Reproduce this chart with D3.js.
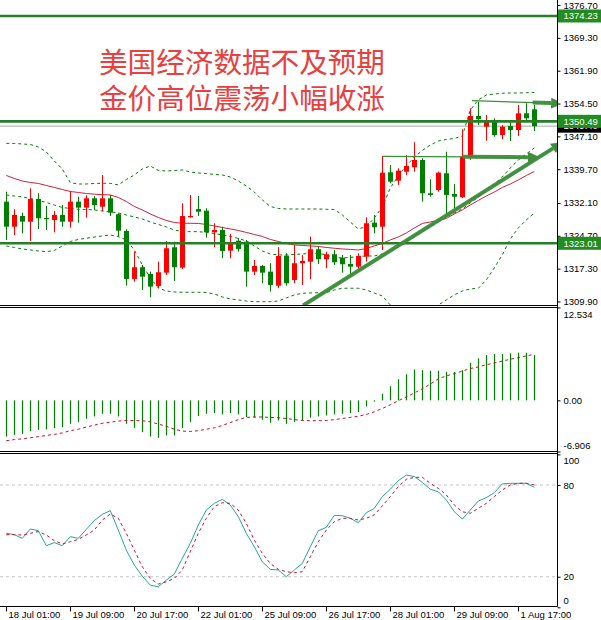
<!DOCTYPE html>
<html>
<head>
  <meta charset="utf-8">
  <script src="https://d3js.org/d3.v7.min.js"></script>
  <style>
    body { margin: 0; background: #fff; }
    text { font-family: "Liberation Sans", Arial, sans-serif; }
  </style>
</head>
<body>
  <svg width="601" height="620"></svg>

  <script>
    // H4 bars, 18 Jul 01:00 .. 1 Aug 17:00
    const open = [1332.39, 1326.75, 1329.16, 1327.88, 1332.99, 1328.71, 1328.26, 1329.39, 1327.88, 1332.39,
      1331.04, 1333.15, 1331.26, 1333.15, 1329.55, 1325.79, 1314.97, 1317.61, 1316.10, 1313.39,
      1316.39, 1322.11, 1317.52, 1328.87, 1330.74, 1330.36, 1325.49, 1326.01, 1321.35, 1323.60,
      1323.37, 1316.62, 1317.90, 1316.62, 1313.46, 1320.22, 1314.74, 1318.51, 1318.87, 1321.66,
      1319.41, 1320.54, 1319.77, 1318.35, 1317.74, 1320.00, 1327.66, 1326.75, 1339.01, 1337.12,
      1339.14, 1340.14, 1341.78, 1334.28, 1335.02, 1338.79, 1334.12, 1333.37, 1342.39, 1351.69,
      1349.28, 1350.41, 1347.41, 1349.44, 1348.54, 1352.30, 1353.20];
    const high = [1334.64, 1330.67, 1329.91, 1335.40, 1334.28, 1331.42, 1330.29, 1331.64, 1334.80, 1333.51,
      1333.83, 1333.67, 1338.40, 1333.90, 1329.77, 1326.17, 1321.12, 1318.13, 1316.62, 1318.87,
      1323.53, 1323.37, 1332.02, 1333.90, 1333.67, 1330.90, 1327.52, 1326.75, 1325.11, 1324.14,
      1323.76, 1319.25, 1318.13, 1318.51, 1322.11, 1320.76, 1322.63, 1320.38, 1324.50, 1322.25,
      1321.12, 1321.50, 1320.38, 1320.38, 1320.76, 1328.87, 1329.39, 1342.68, 1340.65, 1339.91,
      1342.91, 1345.77, 1342.17, 1337.43, 1339.14, 1343.65, 1336.37, 1348.70, 1353.43, 1354.91,
      1351.92, 1351.17, 1349.66, 1350.41, 1354.17, 1354.55, 1354.17];
    const low = [1323.76, 1324.88, 1325.26, 1323.53, 1326.23, 1326.01, 1325.49, 1326.75, 1326.53, 1327.66,
      1328.78, 1330.52, 1330.29, 1329.16, 1324.37, 1313.46, 1314.36, 1312.49, 1310.85, 1312.88,
      1315.87, 1314.52, 1317.22, 1328.78, 1329.16, 1324.28, 1322.11, 1319.63, 1319.63, 1321.12,
      1313.24, 1315.87, 1314.00, 1312.11, 1312.88, 1313.46, 1314.00, 1313.62, 1314.90, 1318.35,
      1317.38, 1318.13, 1316.39, 1315.87, 1317.15, 1318.87, 1325.26, 1321.50, 1336.53, 1336.15,
      1338.40, 1339.14, 1332.39, 1333.51, 1334.64, 1329.01, 1330.90, 1333.22, 1341.78, 1349.66,
      1346.13, 1347.03, 1346.44, 1346.06, 1347.19, 1350.79, 1348.31];
    const close = [1326.75, 1329.39, 1327.88, 1332.99, 1328.64, 1328.53, 1329.39, 1327.88, 1332.39, 1331.04,
      1333.15, 1331.64, 1333.15, 1329.91, 1325.85, 1314.97, 1317.61, 1315.49, 1313.24, 1316.48,
      1321.89, 1317.61, 1329.16, 1329.16, 1330.13, 1325.49, 1326.01, 1321.28, 1323.24, 1321.73,
      1316.62, 1317.90, 1316.39, 1313.62, 1320.15, 1314.00, 1318.51, 1319.03, 1321.66, 1319.41,
      1320.54, 1318.73, 1318.28, 1317.74, 1320.15, 1327.52, 1326.62, 1338.92, 1336.89, 1339.37,
      1340.43, 1341.78, 1334.28, 1333.90, 1338.92, 1333.90, 1333.51, 1342.52, 1351.69, 1350.95,
      1350.41, 1347.41, 1349.28, 1348.54, 1352.30, 1351.17, 1349.40];

    // Bollinger bands and moving average
    const bbUpper = [1345.54, 1345.50, 1345.39, 1345.27, 1344.71, 1343.58, 1341.56, 1339.75, 1336.67, 1336.37,
      1336.37, 1336.49, 1336.53, 1336.53, 1336.15, 1337.39, 1338.40, 1339.75, 1340.43, 1339.42,
      1339.30, 1339.42, 1339.53, 1339.08, 1338.85, 1338.74, 1338.52, 1338.40, 1337.95, 1337.05,
      1335.92, 1334.57, 1332.77, 1331.31, 1330.86, 1330.74, 1330.74, 1330.74, 1330.74, 1330.74,
      1330.67, 1330.63, 1329.39, 1327.81, 1326.24, 1326.76, 1328.71, 1331.19, 1335.47, 1338.18,
      1340.43, 1342.46, 1343.92, 1345.16, 1346.06, 1346.40, 1346.63, 1347.19, 1353.05, 1355.30,
      1356.43, 1356.65, 1356.81, 1356.88, 1356.88, 1356.94, 1356.99];
    const bbMiddle = [1333.90, 1333.67, 1333.45, 1333.11, 1332.66, 1332.21, 1331.64, 1331.08, 1330.85, 1330.67,
      1330.63, 1330.52, 1330.29, 1330.13, 1329.84, 1329.39, 1328.94, 1328.49, 1327.81, 1327.25,
      1326.69, 1326.01, 1325.67, 1325.63, 1325.63, 1325.45, 1325.22, 1324.88, 1324.55, 1324.10,
      1323.53, 1322.41, 1321.28, 1320.60, 1320.38, 1320.38, 1320.49, 1320.60, 1320.72, 1320.76,
      1320.38, 1319.82, 1319.70, 1319.82, 1320.04, 1320.15, 1320.15, 1320.60, 1321.28, 1322.18,
      1323.31, 1324.43, 1325.56, 1326.69, 1327.81, 1328.94, 1329.84, 1330.74, 1332.09, 1333.45,
      1335.02, 1336.37, 1337.95, 1339.98, 1341.78, 1343.13, 1344.49];
    const bbLower = [1322.41, 1322.07, 1321.73, 1321.50, 1321.28, 1321.12, 1321.39, 1322.41, 1323.42, 1323.87,
      1324.14, 1324.43, 1324.66, 1324.88, 1324.55, 1323.76, 1321.50, 1318.13, 1315.20, 1312.94,
      1312.27, 1312.04, 1311.97, 1311.97, 1311.97, 1311.93, 1311.59, 1310.92, 1310.47, 1310.24,
      1310.01, 1309.86, 1309.86, 1309.86, 1310.01, 1310.69, 1311.37, 1311.75, 1311.82, 1311.88,
      1311.88, 1312.49, 1312.88, 1312.88, 1312.88, 1312.49, 1311.82, 1311.14, 1309.11, 1306.86,
      1305.73, 1305.28, 1305.73, 1306.86, 1309.11, 1310.24, 1311.37, 1312.27, 1312.72, 1312.88,
      1314.75, 1317.45, 1320.38, 1323.98, 1326.46, 1328.26, 1329.84];
    const maLine = [1338.29, 1337.61, 1337.05, 1336.71, 1336.49, 1336.04, 1335.59, 1335.14, 1334.68, 1334.46,
      1334.23, 1334.08, 1333.96, 1333.90, 1333.33, 1332.43, 1331.31, 1330.52, 1329.62, 1328.83,
      1328.15, 1327.70, 1327.52, 1327.52, 1327.48, 1327.25, 1326.91, 1326.57, 1326.24, 1325.90,
      1325.45, 1325.00, 1324.55, 1323.87, 1323.42, 1322.97, 1322.63, 1322.52, 1322.41, 1322.29,
      1322.07, 1321.89, 1321.73, 1321.62, 1321.50, 1321.84, 1322.41, 1322.97, 1323.76, 1324.43,
      1325.34, 1326.46, 1327.48, 1327.81, 1328.15, 1328.60, 1329.62, 1330.52, 1331.64, 1332.66,
      1333.67, 1334.57, 1335.59, 1336.37, 1337.28, 1338.29, 1339.19];

    // MACD
    const macdHist = [-4.89, -4.66, -4.53, -4.17, -3.99, -3.94, -3.76, -3.62, -3.17, -2.94,
      -2.49, -2.17, -1.81, -1.81, -2.17, -3.17, -3.71, -4.30, -4.89, -5.07,
      -4.75, -4.75, -3.71, -2.94, -2.13, -1.81, -1.72, -1.90, -1.72, -1.90,
      -2.26, -2.35, -2.63, -3.03, -2.72, -3.17, -2.94, -2.72, -2.35, -2.17,
      -2.04, -1.90, -1.81, -1.72, -1.58, -0.82, -0.18, 0.90, 1.90, 2.85,
      3.53, 4.17, 4.08, 4.00, 4.00, 3.85, 3.85, 4.08, 5.07, 5.66,
      6.11, 6.25, 6.25, 6.34, 6.43, 6.43, 6.11];
    const macdSignal = [-5.45, -5.30, -5.20, -5.05, -4.90, -4.75, -4.60, -4.40, -4.10, -3.90,
      -3.60, -3.35, -3.10, -2.95, -2.80, -2.72, -2.72, -2.75, -2.90, -3.20,
      -3.50, -3.90, -4.15, -4.20, -4.10, -3.90, -3.70, -3.40, -3.00, -2.60,
      -2.30, -2.25, -2.25, -2.30, -2.35, -2.45, -2.60, -2.72, -2.75, -2.75,
      -2.72, -2.60, -2.45, -2.30, -2.15, -1.90, -1.55, -1.10, -0.60, -0.05,
      0.45, 1.00, 1.55, 2.20, 2.90, 3.30, 3.60, 3.95, 4.30, 4.50,
      4.80, 5.05, 5.30, 5.55, 5.75, 6.00, 6.20];

    // Stochastic
    const stochMain = [48.4, 47.5, 45.1, 51.2, 50.1, 40.3, 42.3, 40.3, 46.2, 45.1,
      51.0, 56.7, 60.8, 63.2, 50.5, 37.4, 27.6, 20.4, 14.5, 13.4,
      17.8, 21.7, 32.0, 41.8, 53.8, 63.6, 68.0, 70.6, 66.9, 59.3,
      48.4, 39.6, 29.8, 24.8, 24.4, 20.0, 24.4, 28.7, 39.6, 50.1,
      52.3, 60.1, 59.9, 58.2, 55.3, 61.9, 64.7, 72.4, 77.2, 82.8,
      86.5, 85.5, 81.7, 77.2, 75.6, 70.2, 62.5, 57.7, 63.6, 69.5,
      71.7, 75.0, 80.7, 81.1, 81.1, 81.1, 78.5];
    const stochSignal = [47.5, 47.5, 47.3, 48.4, 49.5, 47.3, 43.6, 41.4, 42.9, 44.4,
      47.3, 50.5, 57.1, 61.0, 58.2, 48.4, 37.4, 26.5, 18.9, 15.2,
      16.7, 18.9, 24.4, 36.4, 48.4, 58.2, 65.8, 68.4, 68.0, 63.6,
      54.9, 44.0, 35.3, 28.7, 24.8, 23.3, 22.6, 23.3, 33.1, 42.9,
      50.5, 56.0, 58.2, 58.2, 57.1, 58.2, 60.4, 66.3, 72.4, 78.9,
      83.7, 85.0, 85.0, 81.1, 77.8, 73.5, 66.9, 62.5, 61.5, 64.7,
      68.0, 72.4, 76.7, 80.0, 81.1, 81.1, 80.0];
    const stochLevels = [80, 20];

    // axis ticks
    const priceTicks = [1376.70, 1369.30, 1361.90, 1354.50, 1347.10, 1339.70, 1332.10, 1324.70, 1317.30, 1309.90];
    const macdTicks = [12.534, 0, -6.906];
    const stochTicks = [100, 80, 20, 0];
    const timeTickIdx = [0, 8, 16, 24, 32, 40, 48, 56, 64];
    const timeTickLabels = ["18 Jul 01:00", "19 Jul 09:00", "20 Jul 17:00", "22 Jul 01:00", "25 Jul 09:00",
      "26 Jul 17:00", "28 Jul 01:00", "29 Jul 09:00", "1 Aug 17:00"];

    // drawn objects
    const levels = [1374.23, 1350.49, 1323.01];
    const lastPrice = 1349.40;
    const arrows = [
      { i0: 58.2, p0: 1355.14, i1: 69.6, p1: 1354.51, thickFrom: 65.8 },
      { i0: 47.1, p0: 1342.60, i1: 66.7, p1: 1342.40, thickFrom: 57.1 },
      { i0: 37.1, p0: 1308.99, i1: 69.6, p1: 1345.84, thickFrom: 37.1 }
    ];
    const titleLines = ["美国经济数据不及预期", "金价高位震荡小幅收涨"];

    const svg = d3.select("svg");
    const plotR = 557.5;
    const upCol = "#ff0000", downCol = "#008000", lineGreen = "#267f26";

    const x = d3.scaleLinear().domain([0, 66]).range([6.3, 534.3]);
    const yP = d3.scaleLinear().domain([1308.99, 1377.83]).range([305.5, 0]);
    const yM = d3.scaleLinear().domain([-6.906, 12.534]).range([451.5, 307.5]);
    const yS = d3.scaleLinear().domain([0, 100]).range([607.3, 454.4]);
    const cx = i => Math.round(x(i));

    svg.append("defs").append("clipPath").attr("id", "mainClip")
      .append("rect").attr("x", 0).attr("y", 0).attr("width", plotR).attr("height", 305);

    const main = svg.append("g").attr("clip-path", "url(#mainClip)");

    // title
    svg.selectAll(".title").data(titleLines).enter().append("text")
      .attr("x", 99).attr("y", (d, i) => 73 + i * 36)
      .style("font-family", "'Noto Sans CJK SC', sans-serif")
      .style("font-size", "28.6px")
      .attr("fill", "#e8403f")
      .text(d => d);

    // bands and MA
    const bandLine = arr => d3.line().x((d, i) => x(i)).y(d => yP(d))(arr);
    [bbUpper, bbMiddle, bbLower].forEach(b => {
      main.append("path").attr("d", bandLine(b)).attr("fill", "none")
        .attr("stroke", "#008000").attr("stroke-width", 1).attr("stroke-dasharray", "3,3");
    });
    main.append("path").attr("d", bandLine(maLine)).attr("fill", "none")
      .attr("stroke", "#d0203a").attr("stroke-width", 1);

    // last price line
    main.append("line").attr("x1", 0).attr("x2", plotR)
      .attr("y1", yP(lastPrice)).attr("y2", yP(lastPrice))
      .attr("stroke", "#a8a8a8").attr("stroke-width", 1);

    // candles
    const idx = d3.range(open.length);
    const candle = main.selectAll(".candle").data(idx).enter().append("g");
    candle.append("line")
      .attr("x1", i => cx(i) + 0.5).attr("x2", i => cx(i) + 0.5)
      .attr("y1", i => yP(high[i])).attr("y2", i => yP(low[i]))
      .attr("stroke", i => close[i] >= open[i] ? upCol : downCol).attr("stroke-width", 1);
    candle.append("rect")
      .attr("x", i => cx(i) - 2).attr("width", 5)
      .attr("y", i => yP(Math.max(open[i], close[i])))
      .attr("height", i => Math.max(1.2, Math.abs(yP(open[i]) - yP(close[i]))))
      .attr("fill", i => close[i] >= open[i] ? upCol : downCol);

    // horizontal levels
    main.selectAll(".level").data(levels).enter().append("line")
      .attr("x1", 0).attr("x2", plotR)
      .attr("y1", d => yP(d)).attr("y2", d => yP(d))
      .attr("stroke", lineGreen).attr("stroke-width", 2.6);

    // arrows
    const arrowCol = "#3e8e3e";
    arrows.forEach(a => {
      const x0 = x(a.i0), y0 = yP(a.p0), x1 = x(a.i1), y1 = yP(a.p1);
      const xt = x(a.thickFrom), yt = yP(a.p0 + (a.p1 - a.p0) * (a.thickFrom - a.i0) / (a.i1 - a.i0));
      const dx = x1 - x0, dy = y1 - y0, len = Math.hypot(dx, dy);
      const ux = dx / len, uy = dy / len;
      const hl = 12, hw = 5.5;
      const bx = x1 - ux * hl, by = y1 - uy * hl;
      main.append("line").attr("x1", x0).attr("y1", y0).attr("x2", bx).attr("y2", by)
        .attr("stroke", arrowCol).attr("stroke-width", 1.3);
      main.append("line").attr("x1", xt).attr("y1", yt).attr("x2", bx).attr("y2", by)
        .attr("stroke", arrowCol).attr("stroke-width", 4).attr("opacity", 0.95);
      main.append("polygon")
        .attr("points", [[x1, y1], [bx - uy * hw, by + ux * hw], [bx + uy * hw, by - ux * hw]].map(p => p.join(",")).join(" "))
        .attr("fill", arrowCol);
    });

    // MACD
    svg.selectAll(".hist").data(macdHist).enter().append("line")
      .attr("x1", (d, i) => cx(i) + 0.5).attr("x2", (d, i) => cx(i) + 0.5)
      .attr("y1", yM(0)).attr("y2", d => yM(d))
      .attr("stroke", "#008000").attr("stroke-width", 1.2);
    svg.append("path")
      .attr("d", d3.line().x((d, i) => x(i)).y(d => yM(d))(macdSignal))
      .attr("fill", "none").attr("stroke", "#c8102e").attr("stroke-width", 1).attr("stroke-dasharray", "3,3");

    // Stochastic
    svg.selectAll(".slev").data(stochLevels).enter().append("line")
      .attr("x1", 0).attr("x2", plotR).attr("y1", d => yS(d)).attr("y2", d => yS(d))
      .attr("stroke", "#c4c4c4").attr("stroke-width", 1).attr("stroke-dasharray", "3,3");
    svg.append("path")
      .attr("d", d3.line().x((d, i) => x(i)).y(d => yS(d))(stochMain))
      .attr("fill", "none").attr("stroke", "#26a69a").attr("stroke-width", 1);
    svg.append("path")
      .attr("d", d3.line().x((d, i) => x(i)).y(d => yS(d))(stochSignal))
      .attr("fill", "none").attr("stroke", "#c8102e").attr("stroke-width", 1).attr("stroke-dasharray", "3,3");

    // frames
    [305.5, 307.5, 451.5, 453.5, 606.5].forEach(yy => {
      svg.append("line").attr("x1", 0).attr("x2", plotR).attr("y1", yy).attr("y2", yy)
        .attr("stroke", "#000").attr("stroke-width", 1);
    });
    svg.append("line").attr("x1", plotR).attr("x2", plotR).attr("y1", 0).attr("y2", 606.5)
      .attr("stroke", "#000").attr("stroke-width", 1);

    // axes
    const styleAxis = g => {
      g.select(".domain").remove();
      g.selectAll("text").style("font-family", "'Liberation Sans', Arial, sans-serif")
        .style("font-size", "9.5px").attr("fill", "#000");
      g.selectAll("line").attr("stroke", "#000");
    };
    svg.append("g").attr("transform", `translate(${plotR},0)`)
      .call(d3.axisRight(yP).tickValues(priceTicks).tickFormat(d3.format(".2f")).tickSize(3))
      .call(styleAxis);

    const macdFmt = d => d === 0 ? "0.00" : String(d);
    const gM = svg.append("g").attr("transform", `translate(${plotR},0)`)
      .call(d3.axisRight(yM).tickValues(macdTicks).tickFormat(macdFmt).tickSize(3))
      .call(styleAxis);
    gM.selectAll("text").attr("y", d => d === 12.534 ? 7 : d === -6.906 ? -6.5 : 0);

    const gS = svg.append("g").attr("transform", `translate(${plotR},0)`)
      .call(d3.axisRight(yS).tickValues(stochTicks).tickSize(3))
      .call(styleAxis);
    gS.selectAll("text").attr("y", d => d === 100 ? 6 : d === 0 ? -7 : 0);

    const gX = svg.append("g").attr("transform", "translate(0,606.5)")
      .call(d3.axisBottom(x).tickValues(timeTickIdx).tickFormat((d, i) => timeTickLabels[i]).tickSize(5))
      .call(styleAxis);
    gX.selectAll(".tick").attr("transform", d => `translate(${cx(d) + 0.5},0)`);
    gX.selectAll("text").attr("text-anchor", "start").attr("x", 2).attr("y", 5).attr("dy", "0.71em");

    // price labels on axis
    const labelBox = (v, fill) => {
      svg.append("rect").attr("x", plotR + 0.5).attr("y", yP(v) - 6.5).attr("width", 601 - plotR).attr("height", 13)
        .attr("fill", fill);
      svg.append("text").attr("x", plotR + 6).attr("y", yP(v)).attr("dy", "0.35em")
        .style("font-size", "9.5px").attr("fill", "#fff").text(d3.format(".2f")(v));
    };
    labelBox(lastPrice, "#000");
    levels.forEach(v => labelBox(v, "#228b22"));
  </script>
</body>
</html>
